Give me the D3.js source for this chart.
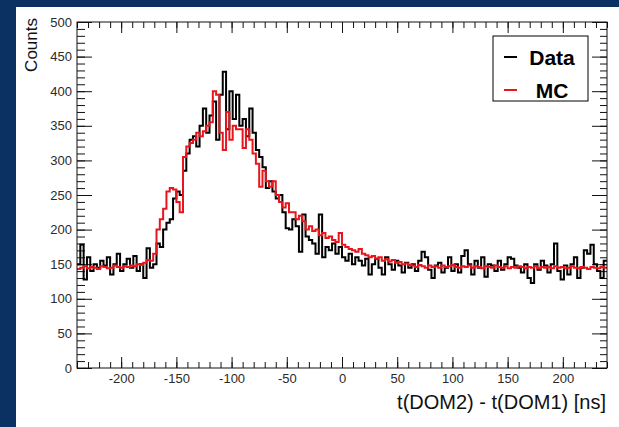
<!DOCTYPE html>
<html>
<head>
<meta charset="utf-8">
<script src="https://cdn.jsdelivr.net/npm/d3@7"></script>
<style>
html, body { margin: 0; padding: 0; background: #0b3162; }
svg { display: block; }
text { font-family: "Liberation Sans", Arial, sans-serif; }
</style>
</head>
<body>
<svg id="chart" width="619" height="427"></svg>
<script>
// histogram binning: 160 bins of 3 ns from -240 to 240
const binLow = -240;
const binWidth = 3;

const dataCounts = [
  150, 178, 128, 160, 140, 150, 145, 155, 148, 160, 135, 150, 165, 140, 150, 158, 145, 162, 140, 150, 130, 173, 145,
  150, 180, 175, 200, 210, 215, 245, 255, 250, 285, 310, 330, 335, 320, 350, 375, 340, 365, 385, 330, 395, 428, 345,
  400, 360, 395, 350, 360, 335, 375, 340, 315, 305, 290, 260, 270, 255, 245, 250, 225, 202, 200, 215, 205, 168, 222,
  190, 185, 180, 165, 222, 160, 175, 170, 180, 165, 175, 160, 155, 165, 150, 160, 155, 148, 158, 135, 150, 158, 145,
  135, 160, 150, 142, 155, 148, 138, 152, 145,
  150, 140, 155, 168, 160, 142, 130, 148, 152, 138, 145, 160, 140, 150, 138, 162, 170, 150, 135, 155, 145, 160, 132,
  150, 148, 140, 155, 142, 150, 160, 158, 148, 145, 138, 150, 130, 123, 150, 142, 155, 148, 138, 150, 180, 140, 128,
  148, 135, 150, 160, 130, 145, 170, 165, 178, 150, 140, 130, 155
];

const mcCounts = [
  143, 145, 147, 144, 146, 145, 143, 147, 146, 144, 145, 148, 146, 145, 147, 146, 148, 147, 150, 149, 152, 156, 155,
  165, 200, 215, 230, 255, 260, 258, 240, 225, 305, 320, 325, 330, 340, 335, 342, 350, 355, 400, 395, 340, 315, 370,
  330, 350, 345, 345, 318, 345, 330, 310, 295, 262, 285, 270, 262, 270, 250, 240, 232, 238, 225, 225, 215, 220, 212,
  200, 205, 198, 200, 192, 195, 188, 190, 185, 182, 195, 178, 175, 172, 170, 168, 172, 165, 163, 160, 162, 158, 160,
  155, 157, 154, 156, 152, 153, 150, 151, 149,
  148, 146, 149, 147, 145, 148, 146, 147, 145, 148, 146, 147, 149, 146, 145, 147, 146, 148, 145, 147, 146, 144, 147,
  146, 145, 148, 146, 145, 147, 144, 146, 145, 147, 146, 144, 146, 145, 147, 144, 146, 145, 146, 144, 147, 145, 146,
  144, 145, 147, 145, 144, 146, 145, 143, 146, 145, 144, 146, 145
];

const legendLabels = ["Data", "MC"];
const seriesColors = ["#000000", "#e8161c"];

const xMajor = d3.range(-200, 201, 50);
const xMinor = d3.range(-240, 241, 10);
const yMajor = d3.range(0, 501, 50);
const yMinor = d3.range(0, 501, 10);

const margin = { top: 22, right: 12, bottom: 59, left: 77 };
const W = 619, H = 427;
const width = W - margin.left - margin.right;
const height = H - margin.top - margin.bottom;

const svg = d3.select("#chart");

// white pad
svg.append("rect")
  .attr("x", 16).attr("y", 7)
  .attr("width", W - 16).attr("height", H - 7)
  .attr("fill", "#ffffff");

const g = svg.append("g")
  .attr("transform", `translate(${margin.left},${margin.top})`);

const x = d3.scaleLinear().domain([-240, 240]).range([0, width]);
const y = d3.scaleLinear().domain([0, 500]).range([height, 0]);

// minor ticks (no labels)
function minorAxis(axis, vals, size) {
  return axis.tickValues(vals).tickSize(size).tickFormat("");
}

g.append("g").attr("class", "tk")
  .call(minorAxis(d3.axisLeft(y), yMinor, -8));
g.append("g").attr("class", "tk")
  .attr("transform", `translate(${width},0)`)
  .call(minorAxis(d3.axisRight(y), yMinor, -7));
g.append("g").attr("class", "tk")
  .attr("transform", `translate(0,${height})`)
  .call(minorAxis(d3.axisBottom(x), xMinor, -6));
g.append("g").attr("class", "tk")
  .call(minorAxis(d3.axisTop(x), xMinor, -6));

// major ticks, plain hyphen for negatives like the original
const plain = d => String(d);
g.append("g").attr("class", "tk lab")
  .call(d3.axisLeft(y).tickValues(yMajor).tickSize(-15).tickPadding(5).tickFormat(plain));
g.append("g").attr("class", "tk")
  .attr("transform", `translate(${width},0)`)
  .call(minorAxis(d3.axisRight(y), yMajor, -15));
g.append("g").attr("class", "tk lab")
  .attr("transform", `translate(0,${height})`)
  .call(d3.axisBottom(x).tickValues(xMajor).tickSize(-11).tickPadding(6).tickFormat(plain));
g.append("g").attr("class", "tk")
  .call(minorAxis(d3.axisTop(x), xMajor, -11));

g.selectAll(".tk .domain").remove();
g.selectAll(".tk line").attr("stroke", "#111").attr("stroke-width", 1);
g.selectAll(".lab text")
  .attr("font-size", 13)
  .attr("fill", "#2a2a2a")
  .style("font-family", "'Liberation Sans', Arial, sans-serif");

// histograms as steps
const step = d3.line()
  .x(d => x(d[0]))
  .y(d => y(d[1]))
  .curve(d3.curveStepAfter);

function stepPoints(counts) {
  const pts = counts.map((c, i) => [binLow + i * binWidth, c]);
  pts.push([binLow + counts.length * binWidth, counts[counts.length - 1]]);
  return pts;
}

[dataCounts, mcCounts].forEach((counts, k) => {
  g.append("path")
    .datum(stepPoints(counts))
    .attr("fill", "none")
    .attr("stroke", seriesColors[k])
    .attr("stroke-width", 2)
    .attr("d", step);
});

// frame
g.append("rect")
  .attr("width", width).attr("height", height)
  .attr("fill", "none")
  .attr("stroke", "#111")
  .attr("stroke-width", 1);

// legend
const leg = svg.append("g").attr("transform", "translate(493,36)");
leg.append("rect")
  .attr("width", 95).attr("height", 65)
  .attr("fill", "#fff")
  .attr("stroke", "#000")
  .attr("stroke-width", 1);

legendLabels.forEach((lab, i) => {
  const cy = 21 + i * 33;
  leg.append("line")
    .attr("x1", 11).attr("x2", 24)
    .attr("y1", cy).attr("y2", cy)
    .attr("stroke", seriesColors[i])
    .attr("stroke-width", 2);
  leg.append("text")
    .attr("x", 59).attr("y", cy)
    .attr("dy", "0.36em")
    .attr("text-anchor", "middle")
    .attr("font-size", 21)
    .attr("font-weight", "bold")
    .text(lab);
});

// axis titles
svg.append("text")
  .attr("transform", "translate(37,18) rotate(-90)")
  .attr("text-anchor", "end")
  .attr("font-size", 17)
  .attr("fill", "#111")
  .text("Counts");

svg.append("text")
  .attr("x", 606).attr("y", 409)
  .attr("text-anchor", "end")
  .attr("font-size", 20)
  .attr("fill", "#111")
  .text("t(DOM2) - t(DOM1) [ns]");
</script>
</body>
</html>
